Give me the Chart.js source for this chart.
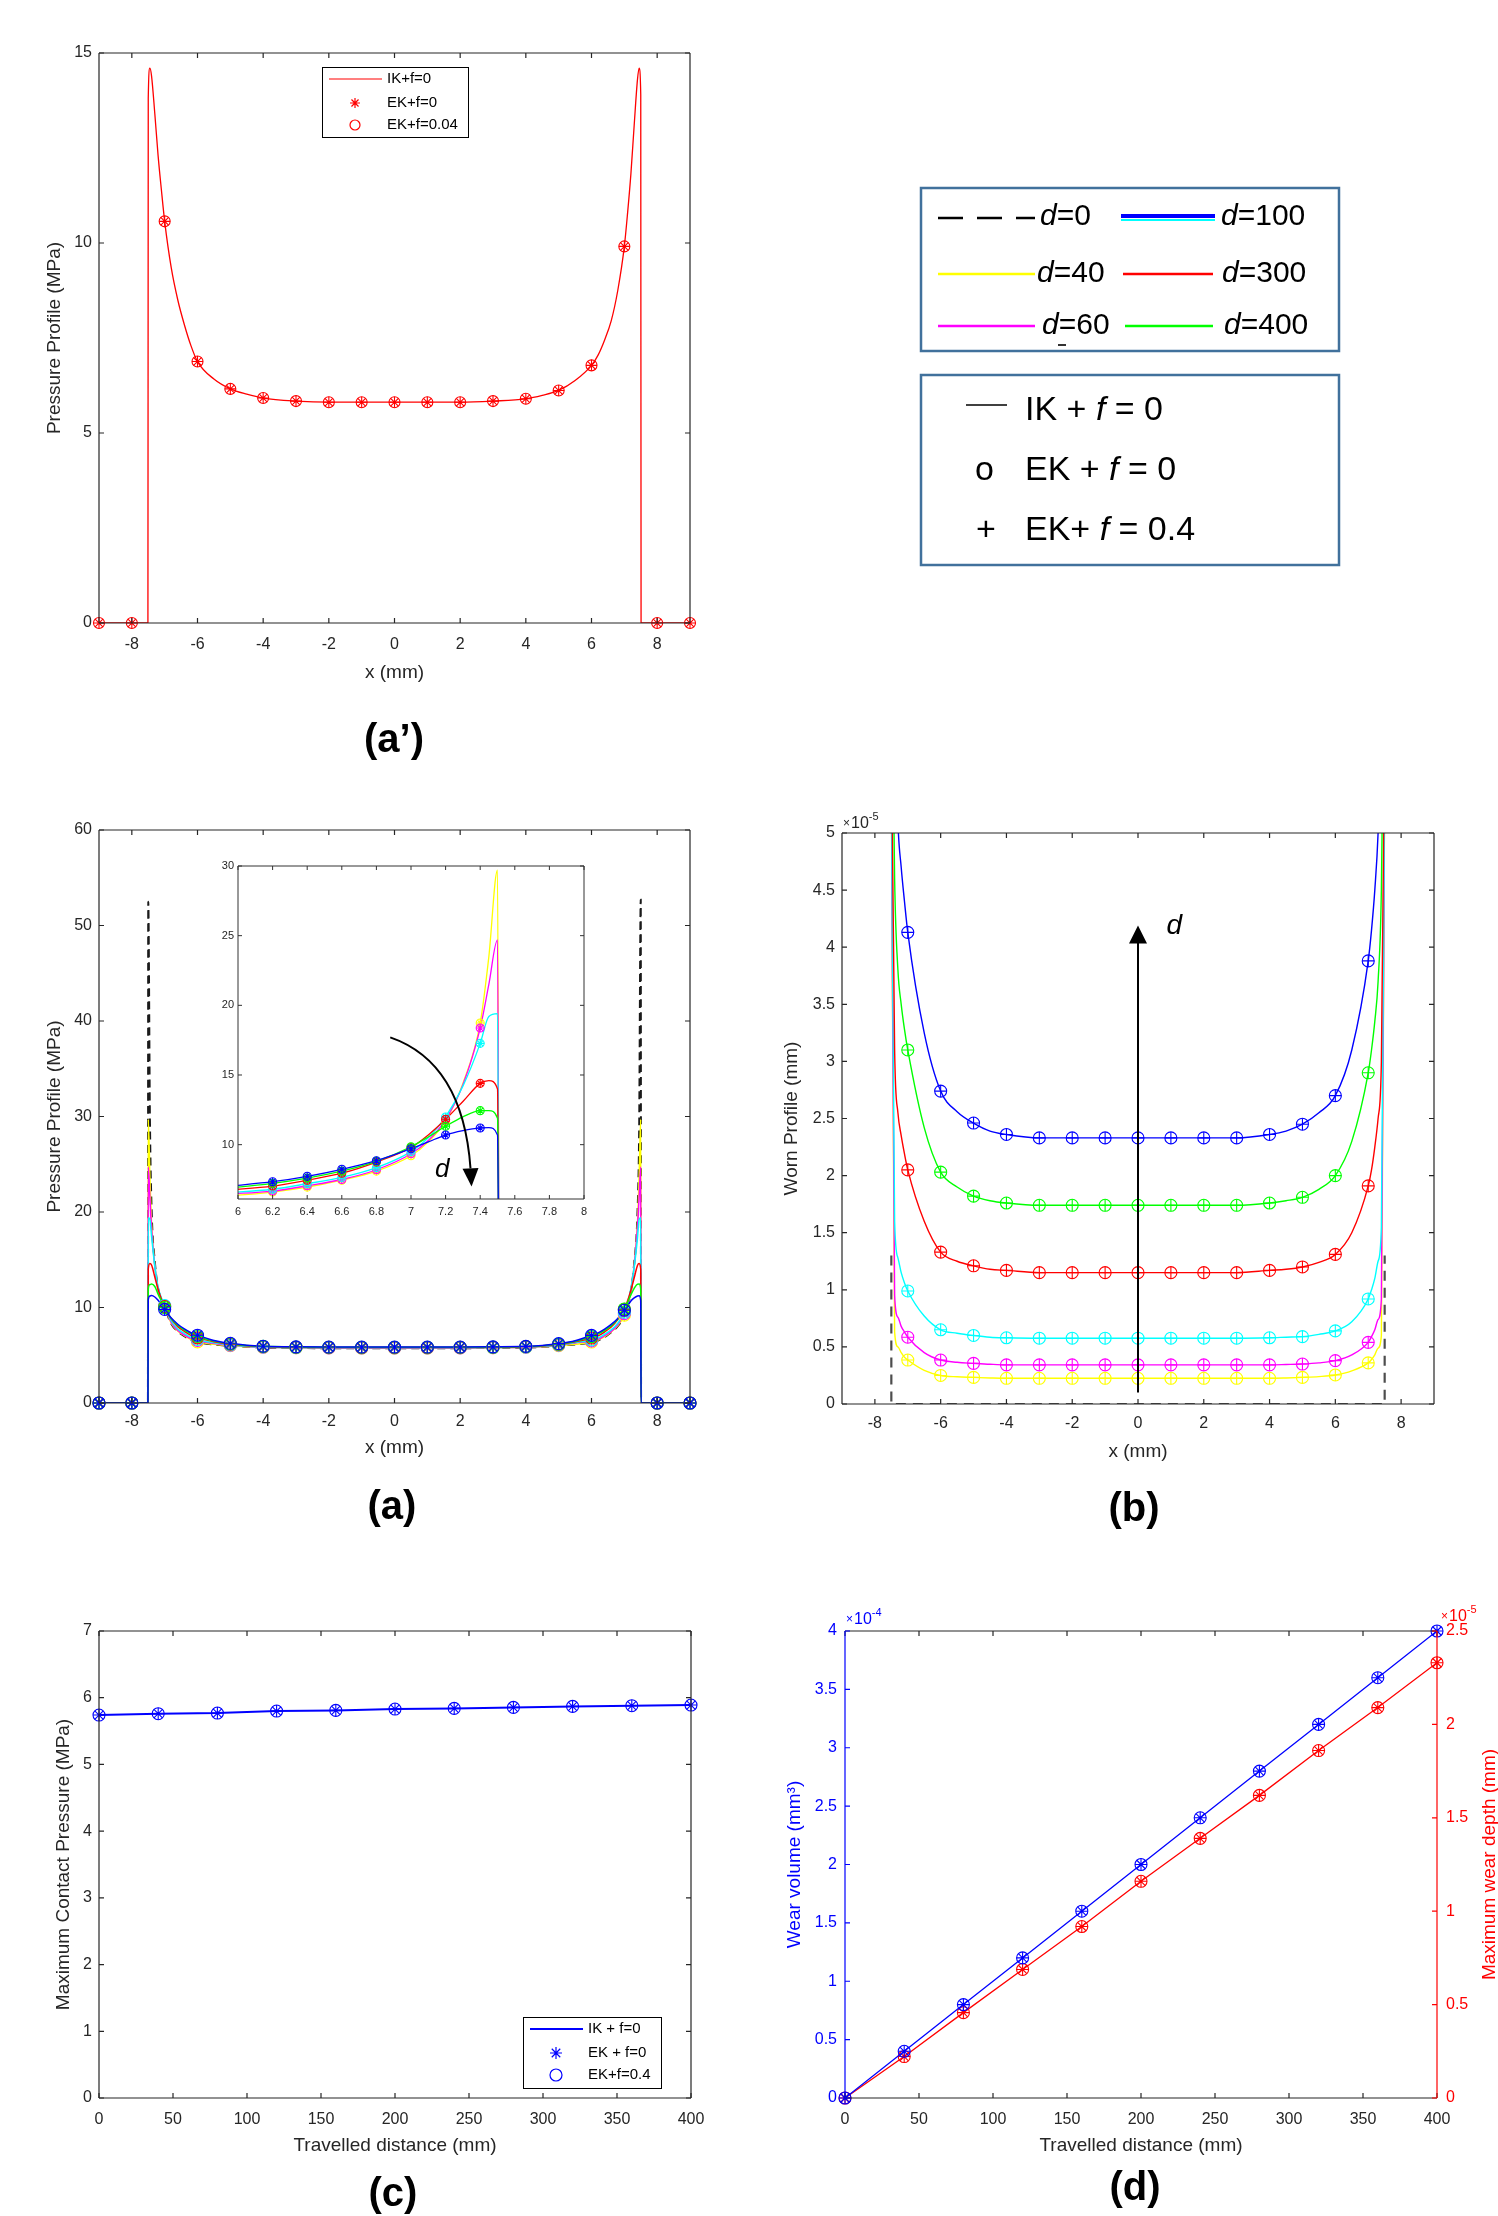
<!DOCTYPE html>
<html>
<head>
<meta charset="utf-8">
<script src="https://cdn.jsdelivr.net/npm/chart.js@4.4.1/dist/chart.umd.min.js"></script>
<style>
body{margin:0;background:#fff;overflow:hidden;}
#page{position:relative;width:1498px;height:2216px;overflow:hidden;background:#fff;}
canvas{position:absolute;}
#ov{position:absolute;left:0;top:0;pointer-events:none;}
</style>
</head>
<body>
<div id="page">
<canvas id="cA1" width="749" height="700" style="left:0px;top:0px"></canvas>
<canvas id="cA" width="749" height="700" style="left:0px;top:780px"></canvas>
<canvas id="cIn" width="420" height="380" style="left:190px;top:850px"></canvas>
<canvas id="cB" width="749" height="700" style="left:749px;top:780px"></canvas>
<canvas id="cC" width="749" height="600" style="left:0px;top:1580px"></canvas>
<canvas id="cD" width="749" height="600" style="left:749px;top:1580px"></canvas>

<svg id="ov" width="1498" height="2216" font-family="'Liberation Sans', Arial, sans-serif">
  <!-- legend of d -->
  <rect x="921" y="188" width="418" height="163" fill="none" stroke="#41719c" stroke-width="2.5"/>
  <line x1="938" y1="218" x2="1035" y2="218" stroke="#000" stroke-width="2.5" stroke-dasharray="25 14"/>
  <text x="1040" y="225" font-size="30"><tspan font-style="italic">d</tspan>=0</text>
  <line x1="1121" y1="216" x2="1215" y2="216" stroke="#0000ff" stroke-width="4"/>
  <line x1="1121" y1="220" x2="1215" y2="220" stroke="#00ffff" stroke-width="2"/>
  <text x="1221" y="225" font-size="30"><tspan font-style="italic">d</tspan>=100</text>
  <line x1="938" y1="274" x2="1035" y2="274" stroke="#ffff00" stroke-width="2.5"/>
  <text x="1037" y="282" font-size="30"><tspan font-style="italic">d</tspan>=40</text>
  <line x1="1123" y1="274" x2="1213" y2="274" stroke="#ff0000" stroke-width="2.5"/>
  <text x="1222" y="282" font-size="30"><tspan font-style="italic">d</tspan>=300</text>
  <line x1="938" y1="326" x2="1035" y2="326" stroke="#ff00ff" stroke-width="2.5"/>
  <text x="1042" y="334" font-size="30"><tspan font-style="italic">d</tspan>=60</text>
  <rect x="1058" y="344" width="8" height="2" fill="#333"/>
  <line x1="1125" y1="326" x2="1213" y2="326" stroke="#00ff00" stroke-width="2.5"/>
  <text x="1224" y="334" font-size="30"><tspan font-style="italic">d</tspan>=400</text>
  <!-- legend of methods -->
  <rect x="921" y="375" width="418" height="190" fill="none" stroke="#41719c" stroke-width="2.5"/>
  <line x1="966" y1="405" x2="1007" y2="405" stroke="#000" stroke-width="1.5"/>
  <text x="1025" y="420" font-size="34">IK + <tspan font-style="italic">f</tspan> = 0</text>
  <text x="975" y="480" font-size="34">o</text>
  <text x="1025" y="480" font-size="34">EK + <tspan font-style="italic">f</tspan> = 0</text>
  <text x="976" y="540" font-size="34">+</text>
  <text x="1025" y="540" font-size="34">EK+ <tspan font-style="italic">f</tspan> = 0.4</text>
  <!-- panel letters -->
  <g font-size="40" font-weight="bold" text-anchor="middle" fill="#000">
    <text x="394" y="752">(a’)</text>
    <text x="392" y="1519">(a)</text>
    <text x="1134" y="1521">(b)</text>
    <text x="393" y="2206">(c)</text>
    <text x="1135" y="2200">(d)</text>
  </g>
</svg>
</div>

<script>
// ---------- data ----------
// pressure profiles, x in mm
var xP = [-9, -8, -7.51, -7.5, -7.45, -7.4, -7.3, -7.2, -7.1, -7, -6.8, -6.6, -6.4, -6.2, -6, -5.5, -5, -4.5, -4,
          -3, -2, -1, 0, 1, 2, 3, 4, 4.5, 5, 5.5, 6, 6.2, 6.4, 6.6, 6.8, 7, 7.1, 7.2, 7.3, 7.4, 7.45, 7.5, 7.51, 8, 9];
// (a') IK+f=0
var pA1 = [0, 0, 0, 13.8, 14.6, 14.4, 13.4, 12.3, 11.4, 10.57, 9.35, 8.5, 7.85, 7.3, 6.88, 6.42, 6.16, 6.02, 5.92,
           5.84, 5.81, 5.81, 5.81, 5.81, 5.81, 5.84, 5.9, 5.99, 6.12, 6.38, 6.78, 7.05, 7.45, 7.95, 8.75, 9.91, 10.8, 11.82, 13.1, 14.3, 14.6, 13.9, 0, 0, 0];
// (a) one curve per travelled distance (colour as in the figure)
var pBlue = [0, 0, 0, 10.8, 11.2, 11.25, 11.1, 10.75, 10.3, 9.8, 8.9, 8.25, 7.75, 7.36, 7.1, 6.55, 6.25, 6.05, 5.95,
             5.88, 5.86, 5.86, 5.86, 5.86, 5.86, 5.88, 5.93, 6.03, 6.22, 6.52, 7.08, 7.34, 7.73, 8.23, 8.85, 9.71, 10.2, 10.69, 11.0, 11.2, 11.22, 10.7, 0, 0, 0];
var pGreen = [0, 0, 0, 11.9, 12.4, 12.45, 12.2, 11.4, 10.7, 10.0, 8.85, 8.15, 7.62, 7.24, 6.97, 6.48, 6.2, 6.02, 5.93,
              5.86, 5.84, 5.84, 5.84, 5.84, 5.84, 5.86, 5.91, 6.0, 6.17, 6.46, 6.95, 7.22, 7.6, 8.1, 8.8, 9.85, 10.55, 11.32, 12.0, 12.44, 12.45, 11.9, 0, 0, 0];
var pRed = [0, 0, 0, 14.0, 14.6, 14.45, 13.2, 11.9, 10.9, 10.1, 8.8, 8.0, 7.5, 7.08, 6.82, 6.42, 6.16, 6.0, 5.91,
            5.84, 5.82, 5.81, 5.81, 5.81, 5.82, 5.84, 5.9, 5.98, 6.13, 6.4, 6.8, 7.03, 7.45, 7.95, 8.75, 9.8, 10.7, 11.82, 13.1, 14.4, 14.6, 14.0, 0, 0, 0];
var pCyan = [0, 0, 0, 19.4, 19.2, 17.5, 14.3, 12.1, 11.0, 10.2, 8.6, 7.75, 7.28, 6.88, 6.65, 6.3, 6.08, 5.95, 5.87,
             5.81, 5.79, 5.78, 5.78, 5.78, 5.79, 5.81, 5.86, 5.94, 6.08, 6.33, 6.6, 6.8, 7.2, 7.65, 8.35, 9.5, 10.5, 11.99, 14.2, 17.27, 19.2, 19.4, 0, 0, 0];
var pMagenta = [0, 0, 0, 24.7, 21.5, 18.3, 14.3, 12.0, 10.9, 10.15, 8.45, 7.6, 7.12, 6.75, 6.55, 6.22, 6.04, 5.92, 5.85,
                5.8, 5.77, 5.76, 5.76, 5.76, 5.77, 5.8, 5.85, 5.92, 6.05, 6.28, 6.5, 6.67, 7.05, 7.5, 8.2, 9.35, 10.3, 11.8, 14.3, 18.37, 21.5, 24.7, 0, 0, 0];
var pYellow = [0, 0, 0, 29.7, 23.6, 18.8, 14.4, 11.9, 10.8, 10.1, 8.35, 7.55, 7.05, 6.65, 6.4, 6.15, 6.0, 5.9, 5.83,
               5.78, 5.76, 5.75, 5.75, 5.75, 5.76, 5.78, 5.83, 5.9, 6.0, 6.15, 6.38, 6.6, 6.95, 7.45, 8.1, 9.2, 10.2, 11.7, 14.4, 18.73, 23.5, 29.7, 0, 0, 0];
var pBlack = [0, 0, 0, 52.5, 30, 20.5, 14.8, 12.0, 10.8, 10.0, 8.3, 7.5, 7.0, 6.6, 6.38, 6.12, 5.98, 5.88, 5.81,
              5.76, 5.74, 5.73, 5.73, 5.73, 5.74, 5.76, 5.81, 5.88, 6.0, 6.13, 6.35, 6.55, 6.9, 7.4, 8.05, 9.15, 10.2, 11.7, 14.6, 19.8, 28, 52.7, 0, 0, 0];
var markXA = [-9, -8, -7, -6, -5, -4, -3, -2, -1, 0, 1, 2, 3, 4, 5, 6, 7, 8, 9];
var markXIn = [6.2, 6.4, 6.6, 6.8, 7, 7.2, 7.4];

// (b) worn profile, units of 1e-5 mm
var xW = [-7.5, -7.4, -7.3, -7.2, -7.1, -7, -6.5, -6, -5.5, -5, -4.5, -4, -3, -2, -1, 0, 1, 2, 3, 4, 4.5, 5, 5.5, 6, 6.5, 7, 7.1, 7.2, 7.3, 7.4, 7.5];
var wBlue = [9, 6.3, 5.1, 4.7, 4.4, 4.13, 3.25, 2.74, 2.56, 2.46, 2.39, 2.36, 2.33, 2.33, 2.33, 2.33, 2.33, 2.33, 2.33, 2.36, 2.39, 2.45, 2.55, 2.70, 3.1, 3.88, 4.15, 4.5, 5.0, 6.0, 9];
var wGreen = [7, 4.6, 3.8, 3.5, 3.28, 3.10, 2.42, 2.03, 1.9, 1.82, 1.78, 1.76, 1.74, 1.74, 1.74, 1.74, 1.74, 1.74, 1.74, 1.76, 1.78, 1.81, 1.88, 2.0, 2.3, 2.90, 3.1, 3.35, 3.7, 4.5, 7];
var wRed = [6, 3.1, 2.55, 2.35, 2.19, 2.05, 1.6, 1.33, 1.25, 1.21, 1.18, 1.17, 1.15, 1.15, 1.15, 1.15, 1.15, 1.15, 1.15, 1.17, 1.18, 1.20, 1.24, 1.31, 1.5, 1.91, 2.05, 2.25, 2.5, 3.0, 6];
var wCyan = [5.5, 1.6, 1.28, 1.15, 1.06, 0.99, 0.77, 0.65, 0.62, 0.60, 0.585, 0.58, 0.576, 0.576, 0.576, 0.576, 0.576, 0.576, 0.576, 0.58, 0.585, 0.59, 0.61, 0.64, 0.72, 0.92, 1.0, 1.1, 1.25, 1.55, 5.5];
var wMagenta = [5.5, 0.95, 0.76, 0.68, 0.63, 0.585, 0.45, 0.385, 0.365, 0.356, 0.348, 0.343, 0.343, 0.343, 0.343, 0.343, 0.343, 0.343, 0.343, 0.343, 0.346, 0.35, 0.36, 0.38, 0.43, 0.54, 0.59, 0.65, 0.74, 0.92, 5.5];
var wYellow = [5.5, 0.63, 0.5, 0.45, 0.41, 0.385, 0.295, 0.25, 0.238, 0.233, 0.228, 0.225, 0.225, 0.225, 0.225, 0.225, 0.225, 0.225, 0.225, 0.225, 0.228, 0.233, 0.24, 0.254, 0.29, 0.36, 0.39, 0.43, 0.49, 0.6, 5.5];
var wD0X = [-7.5, -7.5, 7.5, 7.5];
var wD0 = [1.3, 0, 0, 1.3];
var markXW = [-7, -6, -5, -4, -3, -2, -1, 0, 1, 2, 3, 4, 5, 6, 7];

// (c) and (d) against travelled distance (mm)
var dist = [0, 40, 80, 120, 160, 200, 240, 280, 320, 360, 400];
var pMax = [5.74, 5.76, 5.77, 5.80, 5.81, 5.83, 5.84, 5.855, 5.87, 5.88, 5.89];
var wearVol = [0, 0.4, 0.8, 1.2, 1.6, 2.0, 2.4, 2.8, 3.2, 3.6, 4.0];          // x1e-4 mm^3
var wearDepth = [0, 0.222, 0.457, 0.688, 0.918, 1.16, 1.39, 1.62, 1.86, 2.09, 2.33]; // x1e-5 mm

// tick labels
var ticksXP = [-8, -6, -4, -2, 0, 2, 4, 6, 8];
var ticksYA1 = [0, 5, 10, 15];
var ticksYA = [0, 10, 20, 30, 40, 50, 60];
var ticksXIn = [6, 6.2, 6.4, 6.6, 6.8, 7, 7.2, 7.4, 7.6, 7.8, 8];
var ticksYIn = [10, 15, 20, 25, 30];
var ticksYB = [0, 0.5, 1, 1.5, 2, 2.5, 3, 3.5, 4, 4.5, 5];
var ticksXD = [0, 50, 100, 150, 200, 250, 300, 350, 400];
var ticksYC = [0, 1, 2, 3, 4, 5, 6, 7];
var ticksYD = [0, 0.5, 1, 1.5, 2, 2.5, 3, 3.5, 4];
var ticksYD2 = [0, 0.5, 1, 1.5, 2, 2.5];

// ---------- helpers ----------
var FF = "'Liberation Sans', Arial, sans-serif";
Chart.defaults.font.family = FF;
Chart.defaults.color = '#262626';
Chart.defaults.animation = false;
Chart.defaults.events = [];
Chart.defaults.plugins.legend.display = false;
Chart.defaults.plugins.tooltip.enabled = false;

var BLUE = '#0000ff', GREEN = '#00ff00', RED = '#ff0000', CYAN = '#00ffff', MAG = '#ff00ff', YEL = '#ffff00';

function pts(xs, ys) { return xs.map(function (x, i) { return { x: x, y: ys[i] }; }); }
function pick(xs, ys, sel) { return sel.map(function (x) { return { x: x, y: ys[xs.indexOf(x)] }; }); }

function axis(pos, min, max, ticks, o) {
  var horiz = pos === 'bottom';
  return {
    type: 'linear', position: pos, min: min, max: max,
    afterBuildTicks: function (s) { s.ticks = ticks.map(function (v) { return { value: v }; }); },
    afterFit: function (s) { if (horiz) s.height = o.size; else s.width = o.size; },
    grid: { display: false, drawTicks: false },
    border: { display: false },
    ticks: { autoSkip: false, maxRotation: 0, padding: o.pad, color: o.color || '#262626',
             font: { size: o.fs || 16 }, callback: function (v) { return String(+(+v).toFixed(2)); } },
    title: { display: !!o.title, text: o.title || '', color: o.color || '#262626', font: { size: o.tfs || 19 },
             padding: horiz ? { top: 0, bottom: o.tpad || 0 } : { top: o.tpad || 0, bottom: 0 } }
  };
}
function lineDs(data, color, w, extra) {
  var d = { data: data, showLine: true, borderColor: color, backgroundColor: color, borderWidth: w,
            pointRadius: 0, cubicInterpolationMode: 'monotone', fill: false };
  for (var k in (extra || {})) d[k] = extra[k];
  return d;
}
function markDs(data, color, style, r) {
  return { data: data, showLine: false, pointStyle: style, pointRadius: r, pointBorderColor: color,
           pointBackgroundColor: 'rgba(0,0,0,0)', pointBorderWidth: 1.1, clip: false };
}

// matlab style box with inward ticks
var mbox = {
  id: 'mbox',
  defaults: { color: '#262626', lw: 1.2, tick: 5 },
  afterDatasetsDraw: function (chart, args, o) {
    var ctx = chart.ctx, a = chart.chartArea, sc = chart.scales, sd = o.sides || {};
    var list = [['bottom', 'x', a.left, a.bottom, a.right, a.bottom], ['top', 'x', a.left, a.top, a.right, a.top],
                ['left', 'y', a.left, a.top, a.left, a.bottom], ['right', 'y', a.right, a.top, a.right, a.bottom]];
    ctx.save();
    ctx.lineWidth = o.lw;
    list.forEach(function (L) {
      var name = L[0], cfg = sd[name] || {}, s = sc[cfg.scale || L[1]];
      ctx.strokeStyle = cfg.color || o.color;
      ctx.beginPath();
      ctx.moveTo(L[2], L[3]); ctx.lineTo(L[4], L[5]);
      if (s) s.ticks.forEach(function (t) {
        var p = s.getPixelForValue(t.value);
        if (name === 'bottom') { ctx.moveTo(p, a.bottom); ctx.lineTo(p, a.bottom - o.tick); }
        if (name === 'top') { ctx.moveTo(p, a.top); ctx.lineTo(p, a.top + o.tick); }
        if (name === 'left') { ctx.moveTo(a.left, p); ctx.lineTo(a.left + o.tick, p); }
        if (name === 'right') { ctx.moveTo(a.right, p); ctx.lineTo(a.right - o.tick, p); }
      });
      ctx.stroke();
    });
    ctx.restore();
  }
};
Chart.register(mbox);

function drawMark(ctx, kind, x, y, r) {
  ctx.beginPath();
  if (kind === 'circle') ctx.arc(x, y, r, 0, Math.PI * 2);
  if (kind === 'star' || kind === 'cross' || kind === 'line') { ctx.moveTo(x - r, y); ctx.lineTo(x + r, y); }
  if (kind === 'star' || kind === 'cross') { ctx.moveTo(x, y - r); ctx.lineTo(x, y + r); }
  if (kind === 'star') { var d = r * 0.707; ctx.moveTo(x - d, y - d); ctx.lineTo(x + d, y + d); ctx.moveTo(x - d, y + d); ctx.lineTo(x + d, y - d); }
  ctx.stroke();
}
function drawLegend(ctx, L) {
  ctx.save();
  ctx.fillStyle = '#fff';
  ctx.fillRect(L.x0, L.y0, L.x1 - L.x0, L.y1 - L.y0);
  ctx.strokeStyle = '#000'; ctx.lineWidth = 1;
  ctx.strokeRect(L.x0 + 0.5, L.y0 + 0.5, L.x1 - L.x0, L.y1 - L.y0);
  ctx.font = L.font; ctx.textBaseline = 'middle'; ctx.textAlign = 'left';
  L.rows.forEach(function (r) {
    ctx.strokeStyle = L.color;
    ctx.lineWidth = r.kind === 'line' ? L.lw : 1.2;
    if (r.kind === 'line') drawMark(ctx, 'line', (L.lx0 + L.lx1) / 2, r.y, (L.lx1 - L.lx0) / 2);
    else drawMark(ctx, r.kind, L.mx, r.y, L.r);
    ctx.fillStyle = '#000';
    ctx.fillText(r.text, L.tx, r.y);
  });
  ctx.restore();
}
function drawExp(ctx, x, y, exp, color) {
  ctx.save();
  ctx.fillStyle = color; ctx.textAlign = 'left'; ctx.textBaseline = 'alphabetic';
  ctx.font = '12px ' + FF; ctx.fillText('×', x, y - 1);
  var w = ctx.measureText('×').width + 1;
  ctx.font = '16px ' + FF; ctx.fillText('10', x + w, y);
  w += ctx.measureText('10').width;
  ctx.font = '11px ' + FF; ctx.fillText(exp, x + w, y - 8);
  ctx.restore();
}
function arrowHead(ctx, tx, ty, bx, by, hw) {
  var ang = Math.atan2(ty - by, tx - bx), nx = -Math.sin(ang) * hw, ny = Math.cos(ang) * hw;
  ctx.beginPath();
  ctx.moveTo(tx, ty); ctx.lineTo(bx + nx, by + ny); ctx.lineTo(bx - nx, by - ny); ctx.closePath();
  ctx.fill();
}

// ---------- (a') ----------
new Chart(document.getElementById('cA1'), {
  type: 'scatter',
  data: { datasets: [
    markDs(pick(xP, pA1, markXA), RED, 'star', 5.5),
    markDs(pick(xP, pA1, markXA), RED, 'circle', 5.5),
    lineDs(pts(xP, pA1), RED, 1.3)
  ] },
  options: {
    responsive: false, maintainAspectRatio: false,
    layout: { padding: { left: 0, top: 53, right: 59, bottom: 0 } },
    scales: {
      x: axis('bottom', -9, 9, ticksXP, { size: 77, pad: 12, title: 'x (mm)', tpad: 16 }),
      y: axis('left', 0, 15, ticksYA1, { size: 99, pad: 7, title: 'Pressure Profile (MPa)', tpad: 43 })
    }
  },
  plugins: [{ id: 'legA1', afterDraw: function (c) {
    drawLegend(c.ctx, { x0: 322, y0: 67, x1: 468, y1: 137, lx0: 329, lx1: 382, mx: 355, tx: 387, r: 5, lw: 1.2,
      color: RED, font: '15px ' + FF,
      rows: [{ kind: 'line', text: 'IK+f=0', y: 79 }, { kind: 'star', text: 'EK+f=0', y: 103 }, { kind: 'circle', text: 'EK+f=0.04', y: 125 }] });
  } }]
});

// ---------- (a) main + inset ----------
var seriesP = [[pBlue, BLUE], [pGreen, GREEN], [pRed, RED], [pCyan, CYAN], [pMagenta, MAG], [pYellow, YEL]];
function pressureSets(sel, r, lw, withBlack) {
  var out = [];
  seriesP.forEach(function (s) {
    out.push(markDs(pick(xP, s[0], sel), s[1], 'star', r));
    out.push(markDs(pick(xP, s[0], sel), s[1], 'circle', r));
  });
  seriesP.forEach(function (s) { out.push(lineDs(pts(xP, s[0]), s[1], lw)); });
  if (withBlack) out.push(lineDs(pts(xP, pBlack), '#1a1a1a', 2, { borderDash: [8, 5] }));
  return out;
}

new Chart(document.getElementById('cA'), {
  type: 'scatter',
  data: { datasets: pressureSets(markXA, 6, 1.5, true) },
  options: {
    responsive: false, maintainAspectRatio: false,
    layout: { padding: { left: 0, top: 50, right: 59, bottom: 0 } },
    scales: {
      x: axis('bottom', -9, 9, ticksXP, { size: 77, pad: 9, title: 'x (mm)', tpad: 21 }),
      y: axis('left', 0, 60, ticksYA, { size: 99, pad: 7, title: 'Pressure Profile (MPa)', tpad: 43 })
    }
  }
});

var dArrowIn = { x: [6.88, 7.30, 7.344], y: [17.7, 15.9, 8.3], tipX: 7.35, tipY: 7.0, labelX: 7.18, labelY: 8.2 };
new Chart(document.getElementById('cIn'), {
  type: 'scatter',
  data: { datasets: pressureSets(markXIn, 4, 1.3, false) },
  options: {
    responsive: false, maintainAspectRatio: false,
    layout: { padding: { left: 0, top: 16, right: 26, bottom: 0 } },
    scales: {
      x: axis('bottom', 6, 8, ticksXIn, { size: 31, pad: 6, fs: 11 }),
      y: axis('left', 6.1, 30, ticksYIn, { size: 48, pad: 4, fs: 11 })
    },
    plugins: { mbox: { lw: 1, tick: 4, color: '#333' } }
  },
  plugins: [{
    id: 'insetBg',
    beforeDatasetsDraw: function (c) { var a = c.chartArea; c.ctx.save(); c.ctx.fillStyle = '#fff'; c.ctx.fillRect(a.left, a.top, a.right - a.left, a.bottom - a.top); c.ctx.restore(); },
    afterDraw: function (c) {
      var ctx = c.ctx, X = function (v) { return c.scales.x.getPixelForValue(v); }, Y = function (v) { return c.scales.y.getPixelForValue(v); };
      ctx.save();
      ctx.strokeStyle = '#000'; ctx.fillStyle = '#000'; ctx.lineWidth = 2;
      ctx.beginPath();
      ctx.moveTo(X(dArrowIn.x[0]), Y(dArrowIn.y[0]));
      ctx.quadraticCurveTo(X(dArrowIn.x[1]), Y(dArrowIn.y[1]), X(dArrowIn.x[2]), Y(dArrowIn.y[2]));
      ctx.stroke();
      arrowHead(ctx, X(dArrowIn.tipX), Y(dArrowIn.tipY), X(dArrowIn.x[2]), Y(dArrowIn.y[2]), 8);
      ctx.font = 'italic 26px ' + FF; ctx.textAlign = 'center'; ctx.textBaseline = 'middle';
      ctx.fillText('d', X(dArrowIn.labelX), Y(dArrowIn.labelY));
      ctx.restore();
    }
  }]
});

// ---------- (b) ----------
var seriesW = [[wBlue, BLUE], [wGreen, GREEN], [wRed, RED], [wCyan, CYAN], [wMagenta, MAG], [wYellow, YEL]];
var setsB = [];
seriesW.forEach(function (s) {
  setsB.push(markDs(pick(xW, s[0], markXW), s[1], 'cross', 6));
  setsB.push(markDs(pick(xW, s[0], markXW), s[1], 'circle', 6));
});
seriesW.forEach(function (s) { setsB.push(lineDs(pts(xW, s[0]), s[1], 1.4)); });
setsB.push(lineDs(pts(wD0X, wD0), '#4d4d4d', 2.2, { borderDash: [10, 7], cubicInterpolationMode: 'default', tension: 0 }));

var dArrowB = { x: 0, y0: 0.1, tip: 4.19, labelX: 1.1, labelY: 4.18 };
new Chart(document.getElementById('cB'), {
  type: 'scatter',
  data: { datasets: setsB },
  options: {
    responsive: false, maintainAspectRatio: false,
    layout: { padding: { left: 0, top: 53, right: 64, bottom: 0 } },
    scales: {
      x: axis('bottom', -9, 9, ticksXP, { size: 76, pad: 10, title: 'x (mm)', tpad: 17 }),
      y: axis('left', 0, 5, ticksYB, { size: 93, pad: 7, title: 'Worn Profile (mm)', tpad: 31 })
    }
  },
  plugins: [{ id: 'arrB', afterDraw: function (c) {
    var ctx = c.ctx, X = function (v) { return c.scales.x.getPixelForValue(v); }, Y = function (v) { return c.scales.y.getPixelForValue(v); };
    ctx.save();
    ctx.strokeStyle = '#000'; ctx.fillStyle = '#000'; ctx.lineWidth = 2;
    ctx.beginPath(); ctx.moveTo(X(dArrowB.x), Y(dArrowB.y0)); ctx.lineTo(X(dArrowB.x), Y(dArrowB.tip) + 16); ctx.stroke();
    arrowHead(ctx, X(dArrowB.x), Y(dArrowB.tip), X(dArrowB.x), Y(dArrowB.tip) + 18, 9);
    ctx.font = 'italic 28px ' + FF; ctx.textAlign = 'center'; ctx.textBaseline = 'middle';
    ctx.fillText('d', X(dArrowB.labelX), Y(dArrowB.labelY));
    ctx.restore();
    drawExp(ctx, 94, 48, '-5', '#262626');
  } }]
});

// ---------- (c) ----------
new Chart(document.getElementById('cC'), {
  type: 'scatter',
  data: { datasets: [
    markDs(pts(dist, pMax), BLUE, 'star', 6),
    markDs(pts(dist, pMax), BLUE, 'circle', 6),
    lineDs(pts(dist, pMax), BLUE, 2, { cubicInterpolationMode: 'default', tension: 0 })
  ] },
  options: {
    responsive: false, maintainAspectRatio: false,
    layout: { padding: { left: 0, top: 51, right: 58, bottom: 0 } },
    scales: {
      x: axis('bottom', 0, 400, ticksXD, { size: 82, pad: 12, title: 'Travelled distance (mm)', tpad: 23 }),
      y: axis('left', 0, 7, ticksYC, { size: 99, pad: 7, title: 'Maximum Contact Pressure (MPa)', tpad: 52 })
    }
  },
  plugins: [{ id: 'legC', afterDraw: function (c) {
    drawLegend(c.ctx, { x0: 523, y0: 437, x1: 661, y1: 508, lx0: 530, lx1: 583, mx: 556, tx: 588, r: 6, lw: 2,
      color: BLUE, font: '15px ' + FF,
      rows: [{ kind: 'line', text: 'IK + f=0', y: 449 }, { kind: 'star', text: 'EK + f=0', y: 473 }, { kind: 'circle', text: 'EK+f=0.4', y: 495 }] });
  } }]
});

// ---------- (d) ----------
var axD2 = axis('right', 0, 2.5, ticksYD2, { size: 61, pad: 9, color: RED });
new Chart(document.getElementById('cD'), {
  type: 'scatter',
  data: { datasets: [
    markDs(pts(dist, wearVol), BLUE, 'star', 6),
    markDs(pts(dist, wearVol), BLUE, 'circle', 6),
    lineDs(pts(dist, wearVol), BLUE, 1.3, { cubicInterpolationMode: 'default', tension: 0 }),
    Object.assign(markDs(pts(dist, wearDepth), RED, 'star', 6), { yAxisID: 'y2' }),
    Object.assign(markDs(pts(dist, wearDepth), RED, 'circle', 6), { yAxisID: 'y2' }),
    lineDs(pts(dist, wearDepth), RED, 1.3, { cubicInterpolationMode: 'default', tension: 0, yAxisID: 'y2' })
  ] },
  options: {
    responsive: false, maintainAspectRatio: false,
    layout: { padding: { left: 0, top: 51, right: 0, bottom: 0 } },
    scales: {
      x: axis('bottom', 0, 400, ticksXD, { size: 82, pad: 12, title: 'Travelled distance (mm)', tpad: 23 }),
      y: axis('left', 0, 4, ticksYD, { size: 96, pad: 8, color: BLUE, title: 'Wear volume (mm³)', tpad: 34 }),
      y2: axD2
    },
    plugins: { mbox: { sides: { left: { scale: 'y', color: BLUE }, right: { scale: 'y2', color: RED } } } }
  },
  plugins: [{ id: 'extD', afterDraw: function (c) {
    var ctx = c.ctx, a = c.chartArea;
    drawExp(ctx, 97, 44, '-4', BLUE);
    drawExp(ctx, 692, 41, '-5', RED);
    ctx.save();
    ctx.fillStyle = RED; ctx.font = '19px ' + FF; ctx.textAlign = 'center'; ctx.textBaseline = 'middle';
    ctx.translate(741, (a.top + a.bottom) / 2); ctx.rotate(-Math.PI / 2);
    ctx.fillText('Maximum wear depth (mm)', 0, 0);
    ctx.restore();
  } }]
});
</script>
</body>
</html>
